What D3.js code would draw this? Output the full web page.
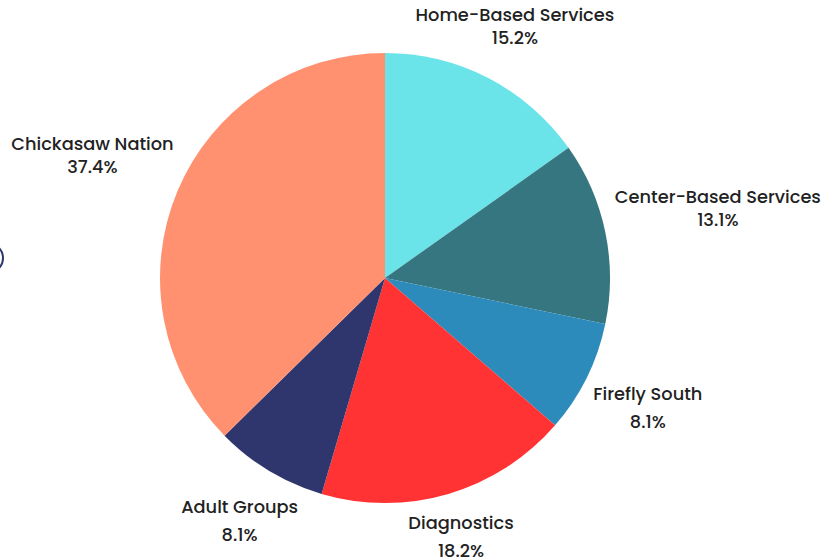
<!DOCTYPE html>
<html>
<head>
<meta charset="utf-8">
<style>
body { margin: 0; background: #fff; }
text { font-family: Poppins, Inter, "Noto Sans", sans-serif; }
</style>
</head>
<body>
<svg id="chart" width="839" height="560"></svg>
<script src="https://d3js.org/d3.v7.min.js"></script>
<script>

// slices go clockwise from 12 o'clock
const categories = ["Home-Based Services", "Center-Based Services", "Firefly South", "Diagnostics", "Adult Groups", "Chickasaw Nation"];
const values = [15.2, 13.1, 8.1, 18.2, 8.1, 37.4];
const colors = ["#6ae4e8", "#367680", "#2c8bba", "#ff3333", "#2f366e", "#ff9171"];

const svg = d3.select("#chart");
const W = 839, H = 560;
const cx = 385, cy = 278, radius = 225;

// the little ring peeking in from the left edge
svg.append("circle")
    .attr("cx", -12).attr("cy", 258).attr("r", 15)
    .attr("fill", "none").attr("stroke", "#2f366e").attr("stroke-width", 2);

const pie = d3.pie().sort(null).value(d => d);
const arcs = pie(values);
const arc = d3.arc().innerRadius(0).outerRadius(radius);

const g = svg.append("g").attr("transform", `translate(${cx},${cy})`);

g.selectAll("path")
    .data(arcs)
    .join("path")
    .attr("d", arc)
    .attr("fill", (d, i) => colors[i]);

// labels: anchored just outside the rim, box pushed out along the angle
const anchorR = 235.5;
const fontSize = 17.8, capH = 12.4;
const topLimit = 9;

const labels = svg.append("g");
arcs.forEach((d, i) => {
    const a = (d.startAngle + d.endAngle) / 2;
    const dx = Math.sin(a), dy = -Math.cos(a);
    const lineH = dy > 0 ? 28 : 23;
    const t = labels.append("text")
        .attr("text-anchor", "middle")
        .attr("font-size", fontSize)
        .attr("font-weight", 500)
        .attr("fill", "#222");
    t.append("tspan").attr("x", 0).attr("dy", 0).text(categories[i]);
    t.append("tspan").attr("x", 0).attr("dy", lineH).text(values[i].toFixed(1) + "%");
    const w = t.node().getBBox().width;
    const h = capH + lineH;
    const proj = Math.abs(w / 2 * dx) + Math.abs(h / 2 * dy);
    let r = anchorR + proj;
    let x = cx + dx * r;
    let y = cy + dy * r;
    // keep it inside the top edge by sliding back along the ray
    if (y - h / 2 < topLimit) {
        y = topLimit + h / 2;
        r = (y - cy) / dy;
        x = cx + dx * r;
    }
    t.attr("transform", `translate(${x},${y - h / 2 + capH})`);
});

</script>
</body>
</html>
